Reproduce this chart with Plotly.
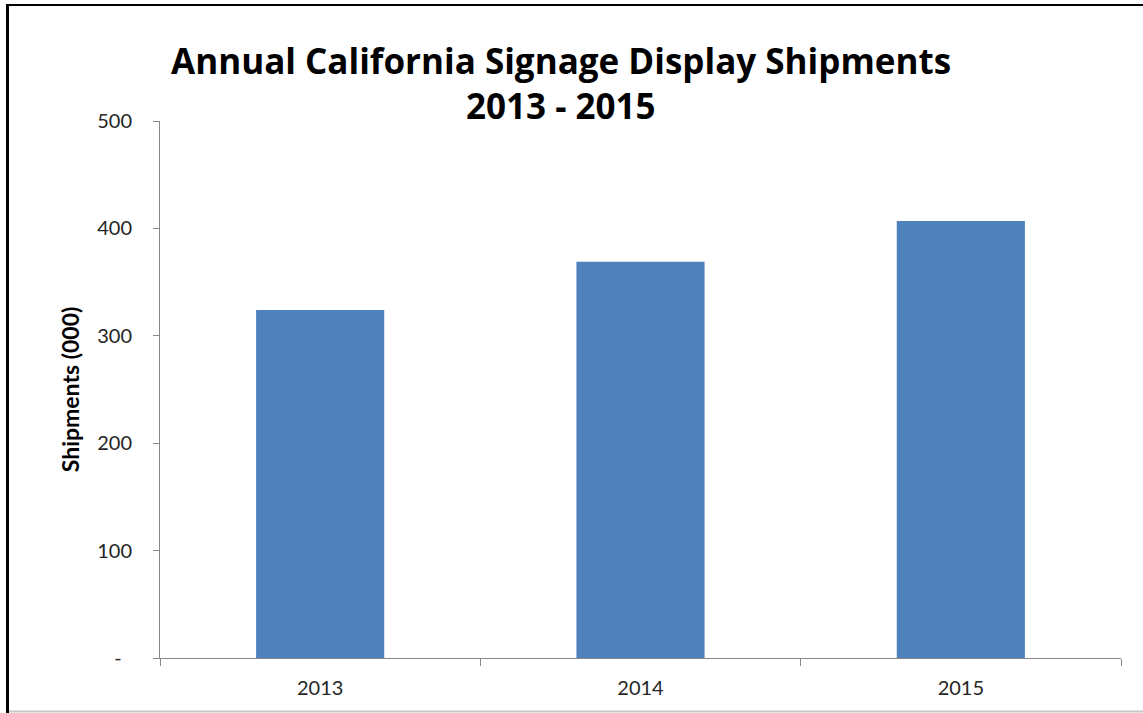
import plotly.graph_objects as go

years = ["2013", "2014", "2015"]
shipments = [324, 369, 407]
y_tickvals = [0, 100, 200, 300, 400, 500]
y_ticktext = ["-\u00a0\u00a0", "100", "200", "300", "400", "500"]

W, H = 1143, 713
L, R, T, B = 160, 22, 121, 55
pw, ph = W - L - R, H - T - B

def px_x(x):
    return (x - L) / pw

def px_y(y):
    return (H - B - y) / ph

fig = go.Figure()
fig.add_trace(go.Bar(
    x=years, y=shipments,
    marker=dict(color="#4F81BD", line=dict(width=0)),
    width=0.4,
))

axis_font = dict(family="Lato", size=20, color="#262626")

fig.update_layout(
    width=W, height=H,
    margin=dict(l=L, r=R, t=T, b=B, pad=0),
    paper_bgcolor="white", plot_bgcolor="white",
    showlegend=False,
    xaxis=dict(
        type="category", tickson="boundaries",
        showline=True, linecolor="#868686", linewidth=1,
        ticks="outside", ticklen=7, tickcolor="#868686",
        showgrid=False, tickfont=axis_font, zeroline=False,
        ticklabelstandoff=12,
    ),
    yaxis=dict(
        range=[0, 500], tickvals=y_tickvals, ticktext=y_ticktext,
        showline=True, linecolor="#868686", linewidth=1,
        ticks="outside", ticklen=6, tickcolor="#868686",
        showgrid=False, zeroline=False, tickfont=axis_font,
        ticklabelstandoff=17,
        title=dict(text="<b>Shipments (000)</b>",
                   font=dict(family="Lato", size=23, color="black"),
                   standoff=11),
    ),
    annotations=[
        dict(text="<b>Annual California Signage Display Shipments</b>",
             xref="paper", yref="paper", x=px_x(561), y=px_y(61),
             xanchor="center", yanchor="middle", showarrow=False,
             font=dict(family="Open Sans", size=35, color="black")),
        dict(text="<b>2013 - 2015</b>",
             xref="paper", yref="paper", x=px_x(561), y=px_y(106),
             xanchor="center", yanchor="middle", showarrow=False,
             font=dict(family="Open Sans", size=35, color="black")),
    ],
    shapes=[
        dict(type="line", xref="paper", yref="paper",
             x0=px_x(7.5), x1=px_x(7.5), y0=px_y(4), y1=px_y(713),
             line=dict(color="black", width=3)),
        dict(type="line", xref="paper", yref="paper",
             x0=px_x(6), x1=px_x(1143), y0=px_y(5), y1=px_y(5),
             line=dict(color="black", width=2)),
        dict(type="line", xref="paper", yref="paper",
             x0=px_x(9), x1=px_x(1143), y0=px_y(711.5), y1=px_y(711.5),
             line=dict(color="#c8c8c8", width=2)),
    ],
)

fig.write_html("out.html", config={"displayModeBar": False},
               post_script="document.body.style.margin='0px';")
